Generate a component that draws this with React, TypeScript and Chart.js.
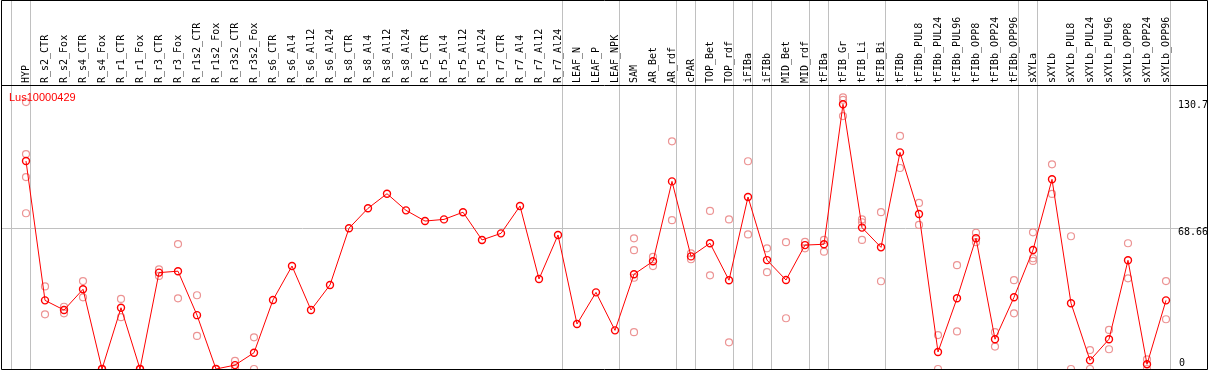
import React, { useEffect, useRef } from "react";
import { Chart, registerables } from "chart.js";

Chart.register(...registerables);

const _ = null;

const title = "Lus10000429";

const categories = [
  "HYP", "R_s2_CTR", "R_s2_Fox", "R_s4_CTR", "R_s4_Fox", "R_r1_CTR", "R_r1_Fox", "R_r3_CTR", "R_r3_Fox",
  "R_r1s2_CTR", "R_r1s2_Fox", "R_r3s2_CTR", "R_r3s2_Fox", "R_s6_CTR", "R_s6_Al4", "R_s6_Al12", "R_s6_Al24",
  "R_s8_CTR", "R_s8_Al4", "R_s8_Al12", "R_s8_Al24", "R_r5_CTR", "R_r5_Al4", "R_r5_Al12", "R_r5_Al24",
  "R_r7_CTR", "R_r7_Al4", "R_r7_Al12", "R_r7_Al24", "LEAF_N", "LEAF_P", "LEAF_NPK", "SAM", "AR_Bet", "AR_rdf",
  "cPAR", "TOP_Bet", "TOP_rdf", "iFIBa", "iFIBb", "MID_Bet", "MID_rdf", "tFIBa", "tFIB_Gr", "tFIB_Li", "tFIB_Bi",
  "tFIBb", "tFIBb_PUL8", "tFIBb_PUL24", "tFIBb_PUL96", "tFIBb_OPP8", "tFIBb_OPP24", "tFIBb_OPP96",
  "sXYLa", "sXYLb", "sXYLb_PUL8", "sXYLb_PUL24", "sXYLb_PUL96", "sXYLb_OPP8", "sXYLb_OPP24", "sXYLb_OPP96",
];

// number of categories in each separated group (left to right)
const groupSizes = [1, 28, 3, 3, 1, 2, 1, 1, 2, 1, 3, 7, 1, 7];

const meanValues = [
  101.2, 33.4, 28.7, 38.8, 0, 29.8, 0, 46.9, 47.6, 26.2,
  0, 1.9, 7.9, 33.6, 50.1, 28.7, 40.9, 68.5, 78.2, 85.3,
  77.2, 72.0, 72.8, 76.3, 62.8, 66.0, 79.3, 43.8, 65.2, 21.9,
  37.3, 18.8, 46.1, 52.4, 91.3, 54.8, 61.2, 43.2, 83.7, 53.0,
  43.3, 60.3, 60.7, 128.8, 68.8, 59.2, 105.4, 75.4, 8.3, 34.4,
  63.6, 14.5, 34.9, 57.9, 92.3, 32.0, 4.2, 14.5, 52.9, 2.3,
  33.4,
];

const rep1 = [
  129.9, 40.2, 30.3, 42.8, 0, 34.1, 0, 48.5, 60.8, 35.9,
  0, 4.0, 15.4,
  _, _, _, _, _, _, _, _, _, _, _, _, _, _, _, _, _, _, _,
  63.6, 54.6, 110.8, 56.3, 76.9, 72.8, 101.1, 58.7, 61.7, 61.9,
  62.8, 132.2, 72.8, 76.3, 113.4, 80.8, 16.5, 50.5, 66.3, 17.9,
  43.2, 66.5, 99.6, 64.6, 9.2, 19.0, 61.2, 4.7, 42.8,
];

const rep2 = [
  104.6, 26.6, 27.1, 34.9, 0, 25.2, 0, 45.3, 34.4, 16.1,
  0, 0, 0,
  _, _, _, _, _, _, _, _, _, _, _, _, _, _, _, _, _, _, _,
  57.8, 50.1, 72.4, 53.4, 45.6, 13.0, 65.5, 47.1, 24.7, 58.7,
  57.1, 131.0, 71.4, 42.7, 97.8, 70.1, 0, 18.3, 61.7, 10.9,
  27.1, 53.9, 85.2, 0, 0, 9.6, 44.1, 0, 24.2,
];

const rep3 = [
  93.4, _, _, _, _, _, _, _, _, _,
  _, _, _,
  _, _, _, _, _, _, _, _, _, _, _, _, _, _, _, _, _, _, _,
  44.4, _, _, _, _, _, _, _, _, _,
  _, 123.1, 62.8, _, _, _, _, _, _, _,
  _, 52.6, _, _, _, _, _, _, _,
];

const rep4 = [
  75.8, _, _, _, _, _, _, _, _, _,
  _, _, _,
  _, _, _, _, _, _, _, _, _, _, _, _, _, _, _, _, _, _, _,
  17.9, _, _, _, _, _, _, _, _, _,
  _, _, _, _, _, _, _, _, _, _,
  _, _, _, _, _, _, _, _, _,
];

const axisLabelValues = [130.7, 68.66, 0];
const axisLabelTexts = ["130.7", "68.66", "0"];
const gridValues = [68.66];

const W = 1209;
const H = 370;
const PAD = { left: 1, right: 2, top: 85, bottom: 1 };
const STEP = 19;
const FIRST_X = 26;
const PX_PER_UNIT = 2.055;

const MONO = "10px 'DejaVu Sans Mono', monospace";

function toPoints(arr: (number | null)[]) {
  const out: { x: number; y: number }[] = [];
  arr.forEach((v, i) => {
    if (v !== null && v !== undefined) out.push({ x: i, y: v });
  });
  return out;
}

const decor = {
  id: "decor",
  beforeDatasetsDraw(chart: any) {
    const { ctx, chartArea, scales } = chart;
    const xs = scales.x;
    const ys = scales.y;
    ctx.save();
    ctx.strokeStyle = "#c0c0c0";
    ctx.lineWidth = 1;
    let b = 0;
    const bounds = [0];
    groupSizes.forEach((g) => {
      b += g;
      bounds.push(b);
    });
    bounds.forEach((bi) => {
      const px = Math.floor(xs.getPixelForValue(bi - 1) + 4.5) + 0.5;
      ctx.beginPath();
      ctx.moveTo(px, 0);
      ctx.lineTo(px, chartArea.bottom);
      ctx.stroke();
    });
    gridValues.forEach((v) => {
      const py = Math.round(ys.getPixelForValue(v)) + 0.5;
      ctx.beginPath();
      ctx.moveTo(chartArea.left, py);
      ctx.lineTo(chartArea.right, py);
      ctx.stroke();
    });
    ctx.restore();
  },
  afterDatasetsDraw(chart: any) {
    const { ctx, chartArea, scales } = chart;
    const xs = scales.x;
    const ys = scales.y;
    ctx.save();
    ctx.strokeStyle = "#000";
    ctx.lineWidth = 1;
    ctx.beginPath();
    ctx.rect(chartArea.left + 0.5, 0.5, chartArea.right - chartArea.left, chartArea.bottom);
    ctx.moveTo(chartArea.left, chartArea.top + 0.5);
    ctx.lineTo(chartArea.right + 1, chartArea.top + 0.5);
    ctx.stroke();

    ctx.fillStyle = "#000";
    ctx.font = MONO;
    ctx.textAlign = "left";
    ctx.textBaseline = "middle";
    categories.forEach((c, i) => {
      const px = xs.getPixelForValue(i);
      ctx.save();
      ctx.translate(px + 0.5, chartArea.top - 2);
      ctx.rotate(-Math.PI / 2);
      ctx.fillText(c, 0, 0);
      ctx.restore();
    });

    axisLabelValues.forEach((v, i) => {
      const py = ys.getPixelForValue(v);
      const x = chartArea.right - 29;
      if (v === 0) {
        ctx.textBaseline = "alphabetic";
        ctx.fillText(axisLabelTexts[i], x + 1, py - 3);
      } else {
        ctx.textBaseline = "top";
        ctx.fillText(axisLabelTexts[i], x, py);
      }
    });

    ctx.fillStyle = "#ff0000";
    ctx.font = "11px 'Liberation Sans', Arial, sans-serif";
    ctx.textBaseline = "alphabetic";
    ctx.fillText(title, chartArea.left + 8, chartArea.top + 16);
    ctx.restore();
  },
};

export default function App() {
  const ref = useRef<HTMLCanvasElement | null>(null);

  useEffect(() => {
    if (!ref.current) return;
    const areaW = W - PAD.left - PAD.right;
    const areaH = H - PAD.top - PAD.bottom;
    const xMin = -(FIRST_X - PAD.left) / STEP;
    const xMax = xMin + areaW / STEP;
    const yMax = areaH / PX_PER_UNIT;

    const repStyle = {
      type: "line" as const,
      showLine: false,
      borderColor: "#ec9494",
      backgroundColor: "rgba(0,0,0,0)",
      pointRadius: 3.5,
      pointBorderWidth: 1.2,
      pointBorderColor: "#ec9494",
      pointBackgroundColor: "rgba(0,0,0,0)",
      clip: false as any,
    };

    const chart = new Chart(ref.current, {
      type: "line",
      data: {
        datasets: [
          {
            label: "mean",
            data: meanValues.map((v, i) => ({ x: i, y: v })),
            borderColor: "#ff0000",
            borderWidth: 1,
            tension: 0,
            pointRadius: 3.5,
            pointBorderWidth: 1.4,
            pointBorderColor: "#ff0000",
            pointBackgroundColor: "rgba(0,0,0,0)",
            clip: false as any,
          },
          { ...repStyle, label: "r1", data: toPoints(rep1) },
          { ...repStyle, label: "r2", data: toPoints(rep2) },
          { ...repStyle, label: "r3", data: toPoints(rep3) },
          { ...repStyle, label: "r4", data: toPoints(rep4) },
        ],
      },
      options: {
        responsive: false,
        maintainAspectRatio: false,
        devicePixelRatio: 1,
        animation: false,
        events: [],
        layout: { padding: PAD, autoPadding: false },
        scales: {
          x: { type: "linear", display: false, min: xMin, max: xMax },
          y: { type: "linear", display: false, min: 0, max: yMax },
        },
        plugins: {
          legend: { display: false },
          tooltip: { enabled: false },
          title: { display: false },
        },
      },
      plugins: [decor],
    });
    return () => chart.destroy();
  }, []);

  return (
    <div style={{ position: "fixed", left: 0, top: 0, width: W, height: H, background: "#fff" }}>
      <canvas ref={ref} width={W} height={H} style={{ width: W, height: H, display: "block" }} />
    </div>
  );
}
